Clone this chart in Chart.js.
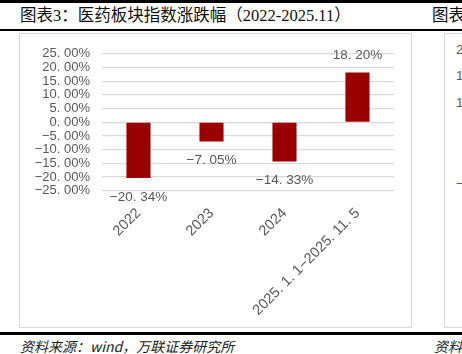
<!DOCTYPE html>
<html>
<head>
<meta charset="utf-8">
<script src="https://cdn.jsdelivr.net/npm/chart.js@4/dist/chart.umd.min.js"></script>
<style>
  body { margin: 0; width: 462px; height: 354px; overflow: hidden; background: #fff; position: relative; font-family: "Noto Sans CJK SC", sans-serif; }
  .rule { position: absolute; left: 0; width: 462px; background: #000; }
  .title { position: absolute; top: 5px; font-size: 16.5px; color: #111; white-space: nowrap; font-family: "Liberation Serif", "Noto Sans CJK SC", serif; line-height: 22px; }
  .box { position: absolute; top: 33px; height: 293px; border: 1.5px solid #d9d9d9; }
  .source { position: absolute; top: 337px; font-size: 14px; font-style: italic; color: #222; white-space: nowrap; line-height: 18px; }
  .side { position: absolute; left: 11px; font: 13px "Liberation Sans", Arial, sans-serif; color: #595959; white-space: nowrap; }
</style>
</head>
<body>
<div class="rule" style="top:0;height:2.5px"></div>
<div class="title" style="left:20px">图表3：医药板块指数涨跌幅（2022-2025.11）</div>
<div class="title" style="left:432px">图表4：</div>
<div class="rule" style="top:29px;height:2px"></div>

<div class="box" style="left:19px;width:391px">
  <canvas id="chart" width="391" height="293"></canvas>
</div>
<div class="box" style="left:444px;width:60px;overflow:hidden">
  <div class="side" style="top:8px">20. 00%</div>
  <div class="side" style="top:34px">15. 00%</div>
  <div class="side" style="top:61px">10. 00%</div>
  <div class="side" style="top:142px">−5. 00%</div>
</div>

<div class="rule" style="top:332px;height:3px"></div>
<div class="source" style="left:20px">资料来源：wind，万联证券研究所</div>
<div class="source" style="left:434px">资料来源</div>

<script>
const categories = ['2022', '2023', '2024', '2025.1.1-2025.11.5'];
const changes = [-20.34, -7.05, -14.33, 18.20];
const yTicks = [-25, -20, -15, -10, -5, 0, 5, 10, 15, 20, 25];

const textGray = '#595959';
const barRed = '#990000';

const pct = v => (v < 0 ? '−' : '') + Math.abs(v).toFixed(2).replace('.', '. ') + '%';
const catLabel = s => s.replace(/\./g, '. ').replace('-', '−');

const barLabels = {
    id: 'barLabels',
    afterDatasetsDraw(chart) {
        const ctx = chart.ctx;
        const meta = chart.getDatasetMeta(0);
        ctx.save();
        ctx.font = '13.5px "Liberation Sans", Arial, sans-serif';
        ctx.fillStyle = textGray;
        ctx.textAlign = 'center';
        ctx.textBaseline = 'middle';
        meta.data.forEach((bar, i) => {
            const v = changes[i];
            ctx.fillText(pct(v), bar.x, v < 0 ? bar.y + 19 : bar.y - 17);
        });
        ctx.restore();
    }
};

new Chart(document.getElementById('chart'), {
    type: 'bar',
    data: {
        labels: categories,
        datasets: [{
            data: changes,
            backgroundColor: barRed,
            categoryPercentage: 1,
            barPercentage: 0.33
        }]
    },
    options: {
        responsive: false,
        animation: false,
        layout: { padding: { top: 18.3, right: 17, left: 0, bottom: 0 } },
        plugins: { legend: { display: false }, tooltip: { enabled: false } },
        scales: {
            x: {
                grid: { display: false },
                border: { display: false },
                ticks: {
                    color: textGray,
                    font: { family: '"Liberation Sans", Arial, sans-serif', size: 14.5 },
                    minRotation: 45,
                    maxRotation: 45,
                    padding: 6,
                    autoSkip: false,
                    callback: (v, i) => catLabel(categories[i])
                },
                afterFit: s => { s.height = 136.3; }
            },
            y: {
                min: -25,
                max: 25,
                afterBuildTicks: s => { s.ticks = yTicks.map(v => ({ value: v })); },
                grid: { color: '#d9d9d9', lineWidth: 1.2, drawTicks: false },
                border: { display: false },
                ticks: {
                    color: textGray,
                    font: { family: '"Liberation Sans", Arial, sans-serif', size: 13 },
                    padding: 12,
                    autoSkip: false,
                    callback: v => pct(v)
                },
                afterFit: s => { s.width = 82; }
            }
        }
    },
    plugins: [barLabels]
});
</script>
</body>
</html>
